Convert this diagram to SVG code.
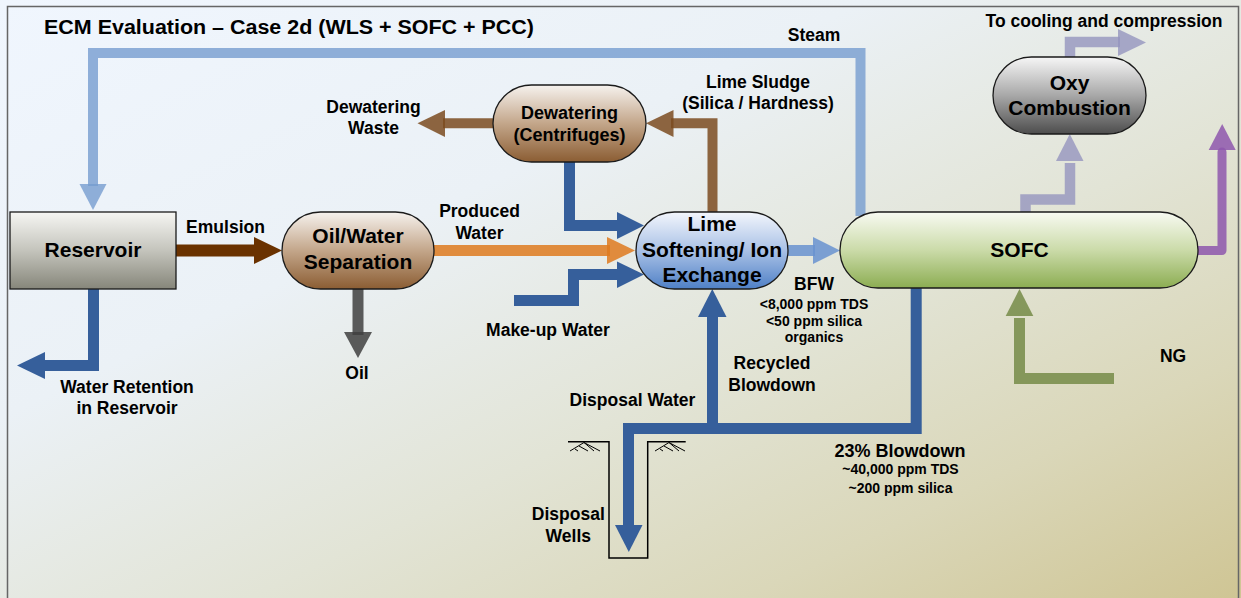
<svg xmlns="http://www.w3.org/2000/svg" width="1241" height="598" viewBox="0 0 1241 598">
<defs>
<linearGradient id="bg" x1="0" y1="0" x2="1" y2="1">
<stop offset="0" stop-color="#f0f6fe"/><stop offset="0.35" stop-color="#ebf1f6"/><stop offset="0.6" stop-color="#e2e4d6"/><stop offset="0.8" stop-color="#dad7b9"/><stop offset="1" stop-color="#cfc594"/>
</linearGradient>
<linearGradient id="gRes" x1="0" y1="0" x2="0" y2="1"><stop offset="0" stop-color="#f6f6f3"/><stop offset="0.5" stop-color="#c4c4bc"/><stop offset="1" stop-color="#86867a"/></linearGradient>
<linearGradient id="gBrown" x1="0" y1="0" x2="0" y2="1"><stop offset="0" stop-color="#f6f2ee"/><stop offset="0.5" stop-color="#c3a68a"/><stop offset="1" stop-color="#8b5d33"/></linearGradient>
<linearGradient id="gBlue" x1="0" y1="0" x2="0" y2="1"><stop offset="0" stop-color="#f3f6fc"/><stop offset="0.5" stop-color="#a9c1e6"/><stop offset="1" stop-color="#4f80c6"/></linearGradient>
<linearGradient id="gGreen" x1="0" y1="0" x2="0" y2="1"><stop offset="0" stop-color="#f8faf2"/><stop offset="0.5" stop-color="#cbdba9"/><stop offset="1" stop-color="#8cad52"/></linearGradient>
<linearGradient id="gGray" x1="0" y1="0" x2="0" y2="1"><stop offset="0" stop-color="#f6f6f6"/><stop offset="0.5" stop-color="#a8a8a8"/><stop offset="1" stop-color="#4d4d4d"/></linearGradient>
<style>
.node{stroke:#1a1a1a;stroke-width:1.3}
.t{font-family:"Liberation Sans",Arial,sans-serif;font-weight:bold;fill:#000;text-anchor:middle}
.nt{font-size:21px}
.lb{font-size:17.5px}
.sm{font-size:14px}
.sh{fill:none;stroke-linejoin:miter;stroke-linecap:butt}
.dk{stroke:#365f9b;stroke-width:11}
.dkf{fill:#365f9b}
.stm{stroke:#769ccf;stroke-width:10;opacity:.8}
.stmf{fill:#769ccf;opacity:.8}
.bfw{stroke:#6892d0;stroke-width:11;opacity:.85}
.bfwf{fill:#6892d0;opacity:.85}
.or{stroke:#de7a1e;stroke-width:11;opacity:.85}
.orf{fill:#de7a1e;opacity:.85}
.br{stroke:#7b4b20;stroke-width:10;opacity:.85}
.brf{fill:#7b4b20;opacity:.85}
.pg{stroke:#9595be;stroke-width:10.5;opacity:.8}
.pgf{fill:#9595be;opacity:.8}
.pu{stroke:#8e57ad;stroke-width:9;opacity:.85;stroke-linejoin:round;stroke-linecap:round}
.puf{fill:#8e57ad;opacity:.85}
.gr{stroke:#768b48;stroke-width:11;opacity:.85}
.grf{fill:#768b48;opacity:.85}
.oil{stroke:#404040;stroke-width:11;opacity:.85}
.oilf{fill:#404040;opacity:.85}
.em{stroke:#6a3200;stroke-width:12}
.emf{fill:#6a3200}
.well{fill:none;stroke:#000;stroke-width:1.5}
.hatch{fill:none;stroke:#000;stroke-width:1}
</style>
</defs>
<rect x="0" y="0" width="1241" height="598" fill="url(#bg)"/>
<rect x="7.5" y="6.5" width="1231" height="600" fill="none" stroke="#666" stroke-width="1.5"/>
<text class="t" x="44" y="33.5" textLength="490" lengthAdjust="spacingAndGlyphs" style="font-size:19.5px;text-anchor:start">ECM Evaluation – Case 2d (WLS + SOFC + PCC)</text>

<g id="connectors">
<!-- Steam -->
<polyline class="sh stm" points="860.5,216 860.5,53 93,53 93,186"/>
<polygon class="stmf" points="79.5,184 106.5,184 93,210"/>
<!-- Emulsion -->
<line class="sh em" x1="176" y1="250.5" x2="256" y2="250.5"/>
<polygon class="emf" points="254,237 254,264 282,250.5"/>
<!-- Oil -->
<line class="sh oil" x1="358" y1="289" x2="358" y2="335"/>
<polygon class="oilf" points="344,332 372,332 358,358"/>
<!-- Water retention -->
<polyline class="sh dk" points="93.5,289 93.5,365.5 43,365.5"/>
<polygon class="dkf" points="45,352 45,379 17,365.5"/>
<!-- Produced water -->
<line class="sh or" x1="434" y1="250.5" x2="610" y2="250.5"/>
<polygon class="orf" points="607,237 607,264 635,250.5"/>
<!-- Dewatering to Lime -->
<polyline class="sh dk" points="569.5,162 569.5,225.5 619,225.5"/>
<polygon class="dkf" points="617,212 617,239 644,225.5"/>
<!-- Make-up water -->
<polyline class="sh dk" points="514,300.5 573.5,300.5 573.5,274.5 619,274.5"/>
<polygon class="dkf" points="617,261.5 617,288 644,274.5"/>
<!-- Lime sludge -->
<polyline class="sh br" points="712.5,212 712.5,123.3 671,123.3"/>
<polygon class="brf" points="673.5,110 673.5,137 646,123.3"/>
<!-- Dewatering waste -->
<line class="sh br" x1="493" y1="123.3" x2="443" y2="123.3"/>
<polygon class="brf" points="445,110 445,137 417.5,123.3"/>
<!-- BFW -->
<line class="sh bfw" x1="788" y1="250.5" x2="815" y2="250.5"/>
<polygon class="bfwf" points="813,237 813,264 840,250.5"/>
<!-- Blowdown / disposal -->
<polyline class="sh dk" points="916.2,287 916.2,428.5 628.5,428.5 628.5,527"/>
<polygon class="dkf" points="615,525 642.5,525 628.8,552"/>
<!-- Recycled blowdown -->
<line class="sh dk" x1="712.5" y1="428.5" x2="712.5" y2="315"/>
<polygon class="dkf" points="698,317 726.5,317 712.3,289"/>
<!-- SOFC to Oxy -->
<polyline class="sh pg" points="1025.5,217 1025.5,199.5 1070,199.5 1070,163"/>
<polygon class="pgf" points="1056,161 1083.5,161 1069.8,134"/>
<!-- Oxy to cooling -->
<polyline class="sh pg" points="1070,57 1070,42 1120,42"/>
<polygon class="pgf" points="1118,29 1118,56 1146,42.5"/>
<!-- SOFC purple -->
<polyline class="pu" fill="none" points="1198,250.5 1222,250.5 1222,152"/>
<polygon class="puf" points="1208.7,150 1235.7,150 1222.2,124"/>
<!-- NG -->
<polyline class="sh gr" points="1114,378.5 1019.5,378.5 1019.5,318"/>
<polygon class="grf" points="1005.7,316 1033.3,316 1019.5,289"/>
</g>

<g id="disposal-wells">
<polyline class="well" points="568,441.7 609,441.7 609,558 647.7,558 647.7,441.7 685.7,441.7"/>
<path class="hatch" d="M570,451 L584,442.5 L600,451 M579,446 L588,451 M575,449 L578,451 M584,442.5 L594,451 M655,451 L669,442.5 L685,451 M664,446 L673,451 M660,449 L663,451 M669,442.5 L679,451"/>
</g>

<g id="reservoir">
<rect class="node" x="10" y="212" width="166" height="77" fill="url(#gRes)"/>
<text class="t nt" x="93" y="257">Reservoir</text>
</g>
<g id="oil-water-separation">
<rect class="node" x="282" y="212" width="152" height="77" rx="38.5" fill="url(#gBrown)"/>
<text class="t nt" x="358" y="243">Oil/Water</text>
<text class="t nt" x="358" y="269">Separation</text>
</g>
<g id="dewatering">
<rect class="node" x="493" y="85" width="153" height="77" rx="38.5" fill="url(#gBrown)"/>
<text class="t" x="569.5" y="118.5" style="font-size:18px">Dewatering</text>
<text class="t" x="569.5" y="140.5" style="font-size:18px">(Centrifuges)</text>
</g>
<g id="lime-softening">
<rect class="node" x="636" y="212" width="152" height="77" rx="38.5" fill="url(#gBlue)"/>
<text class="t nt" x="712" y="231">Lime</text>
<text class="t nt" x="712" y="257">Softening/ Ion</text>
<text class="t nt" x="712" y="282">Exchange</text>
</g>
<g id="sofc">
<rect class="node" x="840" y="212" width="358" height="76" rx="38" fill="url(#gGreen)"/>
<text class="t nt" x="1019.5" y="257">SOFC</text>
</g>
<g id="oxy-combustion">
<rect class="node" x="993" y="57" width="153" height="77" rx="38.5" fill="url(#gGray)"/>
<text class="t nt" x="1069.5" y="90">Oxy</text>
<text class="t nt" x="1069.5" y="115">Combustion</text>
</g>

<g id="labels">
<text class="t lb" x="814" y="40.7">Steam</text>
<text class="t lb" x="1104" y="27">To cooling and compression</text>
<text class="t lb" x="758" y="87.5">Lime Sludge</text>
<text class="t lb" x="758" y="109">(Silica / Hardness)</text>
<text class="t lb" x="373.5" y="113.3">Dewatering</text>
<text class="t lb" x="373.5" y="134">Waste</text>
<text class="t lb" x="225.5" y="232.7">Emulsion</text>
<text class="t lb" x="479.5" y="216.7">Produced</text>
<text class="t lb" x="479.5" y="238.5">Water</text>
<text class="t lb" x="548" y="335.7">Make-up Water</text>
<text class="t lb" x="357" y="378.5">Oil</text>
<text class="t lb" x="127" y="392.7">Water Retention</text>
<text class="t lb" x="127" y="414">in Reservoir</text>
<text class="t lb" x="814" y="290">BFW</text>
<text class="t sm" x="814" y="309">&lt;8,000 ppm TDS</text>
<text class="t sm" x="814" y="326">&lt;50 ppm silica</text>
<text class="t sm" x="814" y="342">organics</text>
<text class="t lb" x="772" y="369.3">Recycled</text>
<text class="t lb" x="772" y="390.5">Blowdown</text>
<text class="t lb" x="632.5" y="406">Disposal Water</text>
<text class="t lb" x="568.3" y="520">Disposal</text>
<text class="t lb" x="568.3" y="541.7">Wells</text>
<text class="t" x="900" y="456.7" style="font-size:18px">23% Blowdown</text>
<text class="t sm" x="900.5" y="474.3">~40,000 ppm TDS</text>
<text class="t sm" x="900.5" y="492.7">~200 ppm silica</text>
<text class="t lb" x="1173" y="361.7">NG</text>
</g>
</svg>
